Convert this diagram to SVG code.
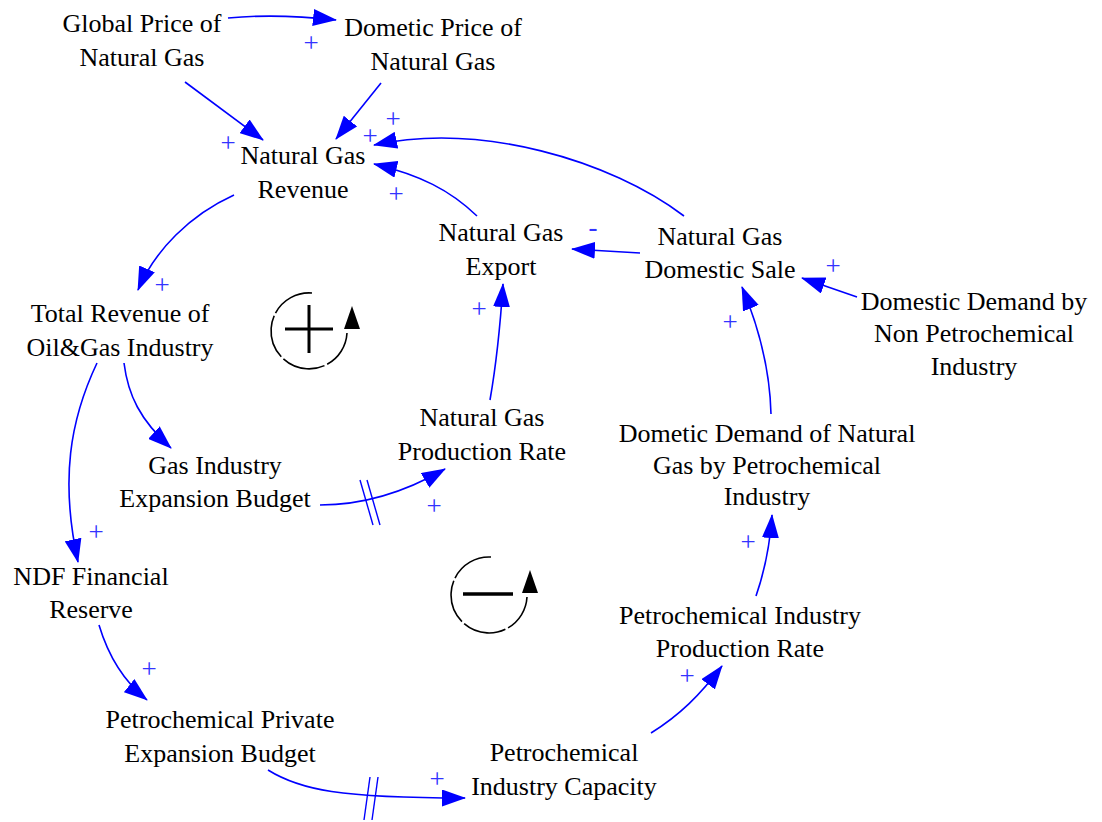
<svg xmlns="http://www.w3.org/2000/svg" width="1102" height="822" viewBox="0 0 1102 822">
<style>
.n{font-family:"Liberation Serif","Times New Roman",serif;font-size:26px;fill:#000;text-anchor:middle}
.c{fill:none;stroke:#0000ff;stroke-width:1.6}
.l{font-family:"Liberation Serif","Times New Roman",serif;font-size:27px;fill:#3333ff;text-anchor:middle}
.d{stroke:#0000ff;stroke-width:1.4}
.loop{fill:none;stroke:#000;stroke-width:1.6;stroke-dasharray:44 3}
</style>
<defs>
<marker id="ah" markerUnits="userSpaceOnUse" viewBox="0 0 24 17" refX="23" refY="8.5" markerWidth="24" markerHeight="17" orient="auto">
<path d="M0,0 L24,8.5 L0,17 z" fill="#0000ff"/>
</marker>
</defs>
<rect width="1102" height="822" fill="#fff"/>
<g id="connectors">
<path class="c" marker-end="url(#ah)" d="M228,18 C260,15 300,16 336,20"/>
<path class="c" marker-end="url(#ah)" d="M185,82 L263,140"/>
<path class="c" marker-end="url(#ah)" d="M381,83 L336,139"/>
<path class="c" marker-end="url(#ah)" d="M684,216 C610,160 480,122 374,145"/>
<path class="c" marker-end="url(#ah)" d="M477,216 C450,190 420,175 374,164"/>
<path class="c" marker-end="url(#ah)" d="M234,195 C190,215 155,250 138,290"/>
<path class="c" marker-end="url(#ah)" d="M97,363 C70,420 60,480 78,562"/>
<path class="c" marker-end="url(#ah)" d="M124,363 C128,395 140,420 171,448"/>
<path class="c" marker-end="url(#ah)" d="M320,505 C360,505 400,495 445,469"/>
<path class="c" marker-end="url(#ah)" d="M490,400 C497,360 500,330 503,284"/>
<path class="c" marker-end="url(#ah)" d="M640,253 L572,249"/>
<path class="c" marker-end="url(#ah)" d="M857,297 L802,278"/>
<path class="c" marker-end="url(#ah)" d="M771,414 C770,370 760,330 742,287"/>
<path class="c" marker-end="url(#ah)" d="M756,596 C765,570 770,545 772,515"/>
<path class="c" marker-end="url(#ah)" d="M651,733 C680,715 700,695 722,666"/>
<path class="c" marker-end="url(#ah)" d="M268,770 C300,790 340,798 465,798"/>
<path class="c" marker-end="url(#ah)" d="M99,625 C108,655 122,680 147,700"/>
<line class="d" x1="360" y1="480" x2="373" y2="525"/>
<line class="d" x1="367" y1="480" x2="380" y2="525"/>
<line class="d" x1="370" y1="777" x2="364" y2="820"/>
<line class="d" x1="378" y1="777" x2="372" y2="820"/>
<text class="l" x="311" y="52">+</text>
<text class="l" x="228" y="152">+</text>
<text class="l" x="370" y="145">+</text>
<text class="l" x="393" y="128">+</text>
<text class="l" x="396" y="203">+</text>
<text class="l" x="162" y="294">+</text>
<text class="l" x="96" y="541">+</text>
<text class="l" x="149" y="678">+</text>
<text class="l" x="437" y="788">+</text>
<text class="l" x="434" y="515">+</text>
<text class="l" x="479" y="318">+</text>
<text class="l" x="593" y="236">-</text>
<text class="l" x="833" y="275">+</text>
<text class="l" x="730" y="331">+</text>
<text class="l" x="748" y="551">+</text>
<text class="l" x="687" y="685">+</text>
</g>
<g id="loopR">
<path class="loop" d="M312,293 A38,38 0 1 0 347,333"/>
<polygon points="344,329 360,329 352,306" fill="#000"/>
<line x1="285" y1="329" x2="333" y2="329" stroke="#000" stroke-width="3"/>
<line x1="309" y1="305" x2="309" y2="353" stroke="#000" stroke-width="3"/>
</g>
<g id="loopB">
<path class="loop" d="M491,557 A38,38 0 1 0 527,597"/>
<polygon points="522,593 538,593 530,570" fill="#000"/>
<line x1="463" y1="594" x2="513" y2="594" stroke="#000" stroke-width="3.5"/>
</g>
<g id="global_price"><text class="n" x="142" y="32">Global Price of<tspan x="142" y="66">Natural Gas</tspan></text></g>
<g id="dometic_price"><text class="n" x="433" y="36">Dometic Price of<tspan x="433" y="70">Natural Gas</tspan></text></g>
<g id="ng_revenue"><text class="n" x="303" y="164">Natural Gas<tspan x="303" y="198">Revenue</tspan></text></g>
<g id="ng_export"><text class="n" x="501" y="241">Natural Gas<tspan x="501" y="275">Export</tspan></text></g>
<g id="ng_domestic_sale"><text class="n" x="720" y="245">Natural Gas<tspan x="720" y="278">Domestic Sale</tspan></text></g>
<g id="demand_non_petro"><text class="n" x="974" y="310">Domestic Demand by<tspan x="974" y="342">Non Petrochemical</tspan><tspan x="974" y="375">Industry</tspan></text></g>
<g id="total_revenue"><text class="n" x="120" y="322">Total Revenue of<tspan x="120" y="356">Oil&amp;Gas Industry</tspan></text></g>
<g id="gas_budget"><text class="n" x="215" y="474">Gas Industry<tspan x="215" y="507">Expansion Budget</tspan></text></g>
<g id="ng_production"><text class="n" x="482" y="426">Natural Gas<tspan x="482" y="460">Production Rate</tspan></text></g>
<g id="demand_petro"><text class="n" x="767" y="442">Dometic Demand of Natural<tspan x="767" y="474">Gas by Petrochemical</tspan><tspan x="767" y="505">Industry</tspan></text></g>
<g id="ndf_reserve"><text class="n" x="91" y="585">NDF Financial<tspan x="91" y="618">Reserve</tspan></text></g>
<g id="private_budget"><text class="n" x="220" y="728">Petrochemical Private<tspan x="220" y="762">Expansion Budget</tspan></text></g>
<g id="petro_production"><text class="n" x="740" y="624">Petrochemical Industry<tspan x="740" y="657">Production Rate</tspan></text></g>
<g id="petro_capacity"><text class="n" x="564" y="761">Petrochemical<tspan x="564" y="795">Industry Capacity</tspan></text></g>
</svg>
